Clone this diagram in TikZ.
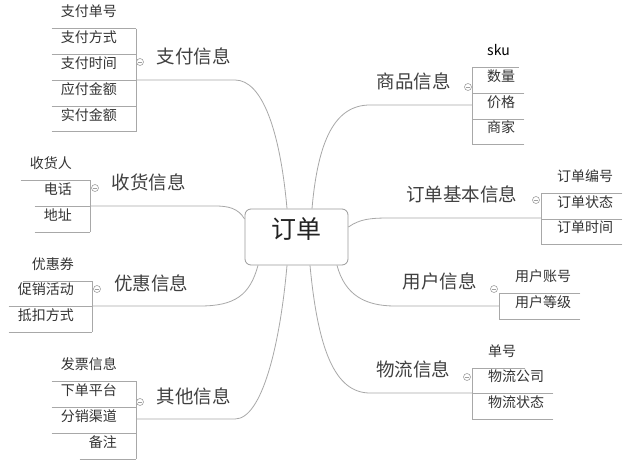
\documentclass[tikz,border=0pt]{standalone}
\usepackage{fontspec}
\setmainfont{Noto Sans CJK SC}
\definecolor{lncol}{HTML}{A8A8A8}
\definecolor{txtcol}{HTML}{333333}
\definecolor{topcol}{HTML}{404040}
\definecolor{knobcol}{HTML}{A0A0A0}
\definecolor{boxcol}{HTML}{9A9A9A}
\definecolor{rootcol}{HTML}{222222}
\tikzset{
 ln/.style={draw=lncol, line width=0.8pt},
 leaf/.style={font=\fontsize{14}{14}\selectfont, text=txtcol, inner xsep=9pt, inner ysep=0pt, text height=0.62em, text depth=0.32em, minimum height=26pt},
 topic/.style={font=\fontsize{18.5}{18.5}\selectfont, text=topcol, inner sep=0pt, text height=0.64em, text depth=0.3em},
 knob/.style={circle, draw=knobcol, line width=0.6pt, minimum size=7pt, inner sep=0pt,
   path picture={\draw[knobcol,line width=0.5pt] ([xshift=-1.8pt]path picture bounding box.center) -- ([xshift=1.8pt]path picture bounding box.center);}},
 rootbox/.style={draw=boxcol, rounded corners=6pt, fill=white, minimum width=103pt, minimum height=56pt, font=\fontsize{25}{25}\selectfont, text=rootcol, line width=0.8pt, inner sep=0pt, text height=0.66em, text depth=0.28em}
}
\begin{document}
\begin{tikzpicture}[x=1pt,y=-1pt]
\useasboundingbox[fill=white] (0,0) rectangle (640,468);
\node[rootbox] (root) at (296.5,237) {订单};

% ---- 支付信息
\node[topic] (t1) at (193.5,62) {支付信息};
\node[knob] (k1) at (140,62) {};
\coordinate (j1) at (235,80);
\coordinate (b1) at (136,0);
\node[leaf,anchor=east] (c11) at (126,15.5) {支付单号};
\node[leaf,anchor=east] (c12) at (126,41.3) {支付方式};
\node[leaf,anchor=east] (c13) at (126,67.1) {支付时间};
\node[leaf,anchor=east] (c14) at (126,92.9) {应付金额};
\node[leaf,anchor=east] (c15) at (126,118.7) {实付金额};
\foreach \n in {c11,c12,c13,c14,c15} \draw[ln] (\n.south west) -- (\n.south west -| b1);
\draw[ln] (c11.south west -| b1) -- (c15.south west -| b1);
\draw[ln] ([xshift=-9.5pt]root.north) .. controls (280,130) and (262,80) .. (j1) -- (j1 -| b1);

% ---- 收货信息
\node[topic] (t2) at (148.5,188) {收货信息};
\node[knob] (k2) at (95,188) {};
\coordinate (j2) at (215,206);
\coordinate (b2) at (90,0);
\node[leaf,anchor=east] (c21) at (81,167) {收货人};
\node[leaf,anchor=east] (c22) at (81,193) {电话};
\node[leaf,anchor=east] (c23) at (81,219) {地址};
\foreach \n in {c21,c22,c23} \draw[ln] (\n.south west) -- (\n.south west -| b2);
\draw[ln] (c21.south west -| b2) -- (c23.south west -| b2);
\draw[ln] ([yshift=18pt]root.west) .. controls (238,208) and (228,206) .. (j2) -- (j2 -| b2);

% ---- 优惠信息
\node[topic] (t3) at (151,289) {优惠信息};
\node[knob] (k3) at (97,289) {};
\coordinate (j3) at (200,306);
\coordinate (b3) at (92,0);
\node[leaf,anchor=east] (c31) at (83,268) {优惠券};
\node[leaf,anchor=east] (c32) at (83,293) {促销活动};
\node[leaf,anchor=east] (c33) at (83,319) {抵扣方式};
\foreach \n in {c31,c32,c33} \draw[ln] (\n.south west) -- (\n.south west -| b3);
\draw[ln] (c31.south west -| b3) -- (c33.south west -| b3);
\draw[ln] ([xshift=-38.5pt]root.south) .. controls (250,295) and (235,306) .. (j3) -- (j3 -| b3);

% ---- 其他信息
\node[topic] (t4) at (193.5,402) {其他信息};
\node[knob] (k4) at (140,402) {};
\coordinate (j4) at (235,419);
\coordinate (b4) at (136,0);
\node[leaf,anchor=east] (c41) at (126,368) {发票信息};
\node[leaf,anchor=east] (c42) at (126,394) {下单平台};
\node[leaf,anchor=east] (c43) at (126,420) {分销渠道};
\node[leaf,anchor=east] (c44) at (126,446) {备注};
\foreach \n in {c41,c42,c43,c44} \draw[ln] (\n.south west) -- (\n.south west -| b4);
\draw[ln] (c41.south west -| b4) -- (c44.south west -| b4);
\draw[ln] ([xshift=-9.5pt]root.south) .. controls (280,345) and (262,419) .. (j4) -- (j4 -| b4);

% ---- 商品信息
\node[topic] (t5) at (413.5,87) {商品信息};
\node[knob] (k5) at (468,87) {};
\coordinate (j5) at (370,105);
\coordinate (b5) at (472,0);
\node[leaf,anchor=west,text=black] (c51) at (478,54) {sku};
\node[leaf,anchor=west] (c52) at (478,80) {数量};
\node[leaf,anchor=west] (c53) at (478,106) {价格};
\node[leaf,anchor=west] (c54) at (478,131) {商家};
\foreach \n in {c51,c52,c53,c54} \draw[ln] (\n.south east) -- (\n.south east -| b5);
\draw[ln] (c51.south east -| b5) -- (c54.south east -| b5);
\draw[ln] ([xshift=15.5pt]root.north) .. controls (318,140) and (335,105) .. (j5) -- (j5 -| b5);

% ---- 订单基本信息
\node[topic] (t6) at (461.5,200) {订单基本信息};
\node[knob] (k6) at (536,200) {};
\coordinate (j6) at (390,218);
\coordinate (b6) at (541,0);
\node[leaf,anchor=west] (c61) at (548,180) {订单编号};
\node[leaf,anchor=west] (c62) at (548,206) {订单状态};
\node[leaf,anchor=west] (c63) at (548,231) {订单时间};
\foreach \n in {c61,c62,c63} \draw[ln] (\n.south east) -- (\n.south east -| b6);
\draw[ln] (c61.south east -| b6) -- (c63.south east -| b6);
\draw[ln] ([yshift=10pt]root.east) .. controls (360,219) and (370,218) .. (j6) -- (j6 -| b6);

% ---- 用户信息
\node[topic] (t7) at (439.5,287) {用户信息};
\node[knob] (k7) at (494,289) {};
\coordinate (j7) at (395,306);
\coordinate (b7) at (499,0);
\node[leaf,anchor=west] (c71) at (506,280) {用户账号};
\node[leaf,anchor=west] (c72) at (506,306) {用户等级};
\foreach \n in {c71,c72} \draw[ln] (\n.south east) -- (\n.south east -| b7);
\draw[ln] (c71.south east -| b7) -- (c72.south east -| b7);
\draw[ln] ([xshift=40.5pt]root.south) .. controls (345,295) and (365,306) .. (j7) -- (j7 -| b7);

% ---- 物流信息
\node[topic] (t8) at (413,375) {物流信息};
\node[knob] (k8) at (467,377) {};
\coordinate (j8) at (370,393);
\coordinate (b8) at (472,0);
\node[leaf,anchor=west] (c81) at (479,355) {单号};
\node[leaf,anchor=west] (c82) at (479,380) {物流公司};
\node[leaf,anchor=west] (c83) at (479,406) {物流状态};
\foreach \n in {c81,c82,c83} \draw[ln] (\n.south east) -- (\n.south east -| b8);
\draw[ln] (c81.south east -| b8) -- (c83.south east -| b8);
\draw[ln] ([xshift=13.5pt]root.south) .. controls (318,350) and (335,393) .. (j8) -- (j8 -| b8);
\end{tikzpicture}
\end{document}
